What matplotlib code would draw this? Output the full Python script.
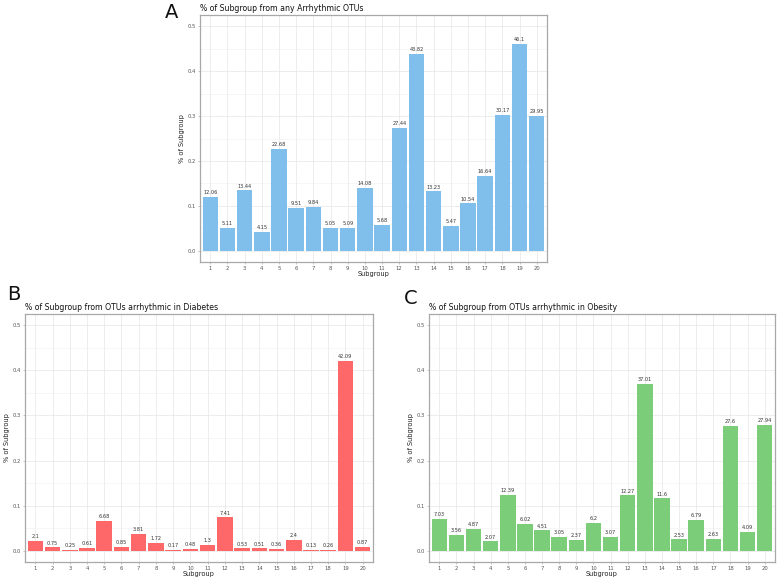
"""Subgroup shares of arrhythmic OTUs — three bar panels (A: any, B: diabetes, C: obesity)."""
import matplotlib

matplotlib.use("Agg")
import matplotlib.pyplot as plt
import numpy as np

SUBGROUPS = list(range(1, 21))
PCT_ANY = [12.06, 5.11, 13.44, 4.15, 22.68, 9.51, 9.84, 5.05, 5.09, 14.08,
           5.68, 27.44, 43.82, 13.23, 5.47, 10.54, 16.64, 30.17, 46.1, 29.95]
PCT_DIAB = [2.1, 0.75, 0.25, 0.61, 6.68, 0.85, 3.81, 1.72, 0.17, 0.48,
            1.3, 7.41, 0.53, 0.51, 0.36, 2.4, 0.13, 0.26, 42.09, 0.87]
PCT_OBES = [7.03, 3.56, 4.87, 2.07, 12.39, 6.02, 4.51, 3.05, 2.37, 6.2,
            3.07, 12.27, 37.01, 11.6, 2.53, 6.79, 2.63, 27.6, 4.09, 27.94]

W, H = 778, 579


def px_axes(fig, left, top, right, bottom):
    return fig.add_axes([left / W, (H - bottom) / H,
                         (right - left) / W, (bottom - top) / H])


def panel(ax, pct, color, title):
    x = np.array(SUBGROUPS)
    y = np.array(pct) / 100.0
    ax.bar(x, y, width=0.9, color=color, lw=0, zorder=3)
    for xi, yi, p in zip(x, y, pct):
        ax.text(xi, yi + 0.004, f"{p:g}", ha="center", va="bottom",
                fontsize=3.6, color="#333333", zorder=4)
    ax.set_xlim(0.4, 20.6)
    ax.set_ylim(-0.025, 0.525)
    ax.set_xticks(x)
    ax.set_xticklabels([str(v) for v in x])
    ax.set_yticks([0, 0.1, 0.2, 0.3, 0.4, 0.5])
    ax.set_yticklabels(["0.0", "0.1", "0.2", "0.3", "0.4", "0.5"])
    ax.set_yticks([0.05, 0.15, 0.25, 0.35, 0.45], minor=True)
    ax.grid(which="major", color="#E6E6E6", lw=0.5, zorder=0)
    ax.grid(which="minor", axis="y", color="#F0F0F0", lw=0.4, zorder=0)
    ax.tick_params(which="major", length=1.5, width=0.4, color="#999999",
                   labelsize=3.8, labelcolor="#555555", pad=1.5)
    ax.tick_params(which="minor", length=0)
    for s in ax.spines.values():
        s.set_color("#A8A8A8")
        s.set_linewidth(0.9)
    ax.set_xlabel("Subgroup", fontsize=4.8, color="#222222", labelpad=0)
    ax.set_ylabel("% of Subgroup", fontsize=4.8, color="#222222", labelpad=1.5)
    ax.set_title(title, fontsize=5.6, loc="left", pad=3, color="#111111")


def main():
    fig = plt.figure(figsize=(W / 100, H / 100), dpi=100)
    fig.patch.set_facecolor("white")

    ax_a = px_axes(fig, 200, 15, 547, 262)
    panel(ax_a, PCT_ANY, "#80BFEC", "% of Subgroup from any Arrhythmic OTUs")
    ax_b = px_axes(fig, 25, 314, 373, 562)
    panel(ax_b, PCT_DIAB, "#FF6868", "% of Subgroup from OTUs arrhythmic in Diabetes")
    ax_c = px_axes(fig, 429, 314, 775, 562)
    panel(ax_c, PCT_OBES, "#7CCD79", "% of Subgroup from OTUs arrhythmic in Obesity")

    for lab, xx, yy in [("A", 172, 12), ("B", 14, 295), ("C", 411, 298)]:
        fig.text(xx / W, 1 - yy / H, lab, fontsize=14, ha="center",
                 va="center", color="#111111")

    fig.savefig("out.png", dpi=100)


if __name__ == "__main__":
    main()
